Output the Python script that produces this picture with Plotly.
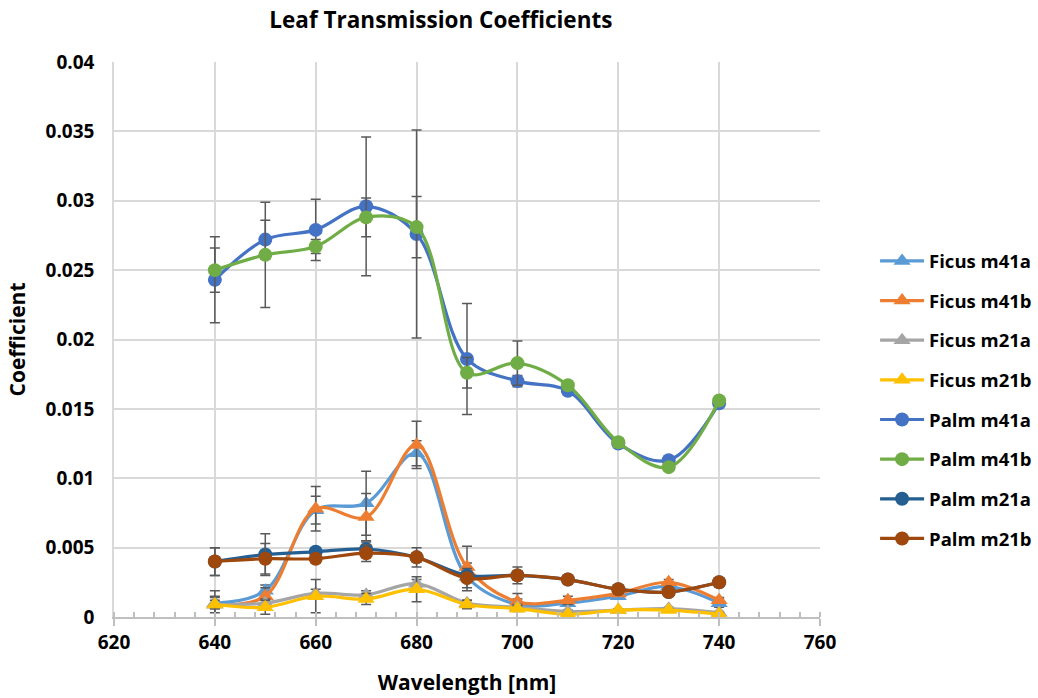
import plotly.graph_objects as go

wavelength = [640, 650, 660, 670, 680, 690, 700, 710, 720, 730, 740]

series_names = ["Ficus m41a", "Ficus m41b", "Ficus m21a", "Ficus m21b",
                "Palm m41a", "Palm m41b", "Palm m21a", "Palm m21b"]

ficus_m41a = [0.0010, 0.0019, 0.0077, 0.0082, 0.0118, 0.0029, 0.0009, 0.0010, 0.0015, 0.0022, 0.0010]
ficus_m41b = [0.0009, 0.0015, 0.0078, 0.0072, 0.0124, 0.0036, 0.0011, 0.0012, 0.0017, 0.0025, 0.0012]
ficus_m21a = [0.0009, 0.0010, 0.0017, 0.0016, 0.0024, 0.0010, 0.0007, 0.0004, 0.0005, 0.0006, 0.0003]
ficus_m21b = [0.0009, 0.0007, 0.0015, 0.0013, 0.0020, 0.0009, 0.0006, 0.0002, 0.0005, 0.0005, 0.0002]
palm_m41a = [0.0243, 0.0272, 0.0279, 0.0296, 0.0276, 0.0186, 0.0170, 0.0163, 0.0125, 0.0113, 0.0154]
palm_m41b = [0.0250, 0.0261, 0.0267, 0.0288, 0.0281, 0.0176, 0.0183, 0.0167, 0.0126, 0.0108, 0.0156]
palm_m21a = [0.0040, 0.0045, 0.0047, 0.0049, 0.0043, 0.0030, 0.0030, 0.0027, 0.0020, 0.0018, 0.0025]
palm_m21b = [0.0040, 0.0042, 0.0042, 0.0046, 0.0043, 0.0028, 0.0030, 0.0027, 0.0020, 0.0018, 0.0025]

ficus_m41a_err = [0.0004, 0.0004, 0.0010, 0.0023, 0.0009, 0.0010, 0.0004, 0.0002, 0.0002, 0.0002, 0.0003]
ficus_m41b_err = [0.0010, 0.0006, 0.0016, 0.0017, 0.0017, 0.0015, 0.0006, 0.0003, 0.0002, 0.0002, 0.0002]
ficus_m21a_err = [0.0003, 0.0003, 0.0003, 0.0003, 0.0003, 0.0002, 0.0002, 0.0001, 0.0001, 0.0001, 0.0001]
ficus_m21b_err = [0.0006, 0.0005, 0.0012, 0.0004, 0.0009, 0.0003, 0.0002, 0.0001, 0.0001, 0.0001, 0.0001]
palm_m41a_err = [0.0031, 0.0014, 0.0022, 0.0050, 0.0075, 0.0040, 0.0004, 0.0003, 0.0002, 0.0002, 0.0002]
palm_m41b_err = [0.0016, 0.0038, 0.0005, 0.0014, 0.0022, 0.0011, 0.0016, 0.0003, 0.0002, 0.0002, 0.0002]
palm_m21a_err = [0.0010, 0.0015, 0.0003, 0.0005, 0.0003, 0.0005, 0.0003, 0.0002, 0.0002, 0.0002, 0.0002]
palm_m21b_err = [0.0010, 0.0011, 0.0003, 0.0006, 0.0007, 0.0003, 0.0006, 0.0002, 0.0002, 0.0002, 0.0002]

y_tick_vals = [0, 0.005, 0.01, 0.015, 0.02, 0.025, 0.03, 0.035, 0.04]
y_tick_text = ["0", "0.005", "0.01", "0.015", "0.02", "0.025", "0.03", "0.035", "0.04"]
x_tick_vals = [620, 640, 660, 680, 700, 720, 740, 760]

values = [ficus_m41a, ficus_m41b, ficus_m21a, ficus_m21b, palm_m41a, palm_m41b, palm_m21a, palm_m21b]
errors = [ficus_m41a_err, ficus_m41b_err, ficus_m21a_err, ficus_m21b_err,
          palm_m41a_err, palm_m41b_err, palm_m21a_err, palm_m21b_err]
colors = ["#5B9BD5", "#ED7D31", "#A5A5A5", "#FFC000", "#4472C4", "#70AD47", "#255E91", "#9E480E"]
symbols = ["triangle-up"] * 4 + ["circle"] * 4
sizes = [15] * 4 + [14] * 4

FONT = "Open Sans"

fig = go.Figure()
for i, name in enumerate(series_names):
    fig.add_trace(go.Scatter(
        x=wavelength, y=values[i], name=name, mode="lines+markers",
        legendgroup=name,
        line=dict(color=colors[i], width=3.2, shape="spline", smoothing=1.0),
        marker=dict(symbol=symbols[i], size=sizes[i], color=colors[i]),
        error_y=dict(type="data", array=errors[i], visible=True,
                     color="#595959", thickness=1.5, width=5),
    ))

fig.update_layout(
    width=1038, height=698,
    margin=dict(l=114, r=218, t=62, b=81, autoexpand=False),
    paper_bgcolor="white", plot_bgcolor="white",
    font=dict(family=FONT, size=18, color="black", weight="bold"),
    title=dict(text="Leaf Transmission Coefficients", x=0.463, xref="paper", xanchor="center",
               y=0.971, yanchor="middle",
               font=dict(family=FONT, size=22.5, color="black", weight="bold")),
    showlegend=True,
    legend=dict(x=1.078, xanchor="left", y=0.675, yanchor="top",
                font=dict(family=FONT, size=18.5, color="black", weight="bold"),
                traceorder="grouped", tracegroupgap=12.6, itemwidth=44,
                bgcolor="rgba(0,0,0,0)"),
    xaxis=dict(
        range=[620, 760], tickvals=x_tick_vals, automargin=False,
        showgrid=True, gridcolor="#D9D9D9", gridwidth=1.5,
        showline=True, linecolor="#BFBFBF", linewidth=1.5,
        zeroline=False, ticks="outside", ticklen=7, tickcolor="#BFBFBF", tickwidth=1.5,
        minor=dict(dtick=4, ticks="inside", ticklen=5, tickcolor="#BFBFBF", tickwidth=1.5, showgrid=False),
        tickfont=dict(family=FONT, size=19, color="black", weight="bold"),
        title=dict(text="Wavelength [nm]", standoff=22,
                   font=dict(family=FONT, size=21, color="black", weight="bold")),
        mirror=False,
    ),
    yaxis=dict(
        range=[0, 0.04], tickvals=y_tick_vals, ticktext=y_tick_text, automargin=False,
        showgrid=True, gridcolor="#D9D9D9", gridwidth=1.5,
        showline=True, linecolor="#D9D9D9", linewidth=1.5,
        zeroline=False, ticks="", ticklabelstandoff=14,
        tickfont=dict(family=FONT, size=19, color="black", weight="bold"),
        title=dict(text="Coefficient", standoff=14,
                   font=dict(family=FONT, size=21, color="black", weight="bold")),
    ),
)

fig.write_html("out.html")
